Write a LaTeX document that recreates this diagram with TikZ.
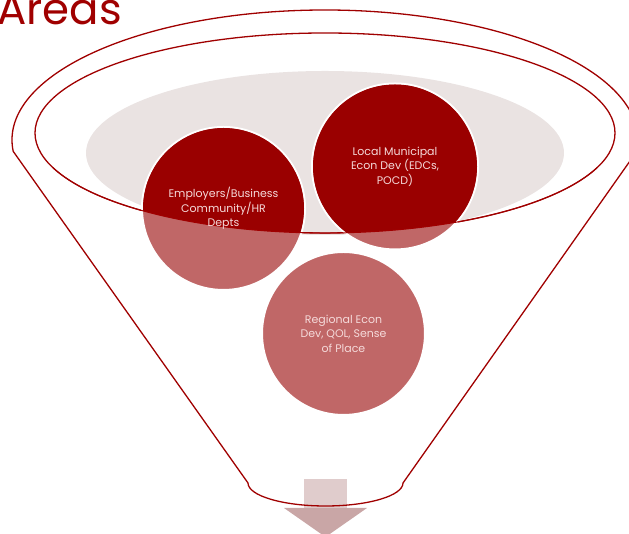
\documentclass[tikz,border=0pt]{standalone}
\usepackage{fontspec}
\setmainfont{Poppins}
\definecolor{funnelred}{HTML}{A00000}
\definecolor{deepred}{HTML}{9A0000}
\definecolor{softred}{HTML}{C06767}
\definecolor{ovalgray}{HTML}{EAE3E2}
\definecolor{labelpink}{HTML}{F5DADA}
\definecolor{stemtint}{HTML}{E0CCCC}
\definecolor{headtint}{HTML}{C9A6A6}
\tikzset{
  funnelline/.style={draw=funnelred, line width=1.3pt, line join=round},
  bubble/.style={circle, minimum size=163pt, inner sep=0pt, fill=softred, draw=white, line width=2pt},
  bubbletext/.style={text=labelpink, align=center, font=\fontsize{11}{14.5}\selectfont},
}
\begin{document}
\begin{tikzpicture}[x=1pt,y=1pt]
\useasboundingbox (0,0) rectangle (629,534);

% title, partly cut off at the top edge
\node[anchor=base west, inner sep=0pt, text=funnelred, font=\fontsize{43.5}{43.5}\selectfont] (title) at (-3,509) {Areas};

% shaded mouth of the funnel
\fill[ovalgray] (325,381) ellipse [x radius=239, y radius=82];

% down arrow leaving the funnel
\fill[stemtint] (304,26) rectangle (347,55);
\fill[headtint] (284,26) -- (367,26) -- (325.5,-3) -- cycle;

% funnel outline: rim on top, straight sides, rounded bottom
\draw[funnelline] (325,394) ++(185:313 and 130)
  arc[start angle=185, end angle=-5, x radius=313, y radius=130]
  -- (403,51)
  arc[start angle=0, end angle=-180, x radius=77.5, y radius=23]
  -- cycle;
\draw[funnelline] (325,401) ellipse [x radius=290, y radius=100];

% the three bubbles
\node[bubble] (emp) at (223.5,325.5) {};
\node[bubble, minimum size=166pt] (local) at (395,367.5) {};
\node[bubble] (region) at (343.5,200.5) {};

% the parts inside the rim are darker
\begin{scope}
  \clip (325,401) ellipse [x radius=290, y radius=100];
  \fill[deepred] (emp.center) circle[radius=80.5];
  \fill[deepred] (local.center) circle[radius=82];
\end{scope}
\draw[funnelred, line width=1pt] (325,401) ++(200:290 and 100)
  arc[start angle=200, end angle=340, x radius=290, y radius=100];

% labels
\node[bubbletext] (emptext) at (emp.center) {Employers/Business\\Community/HR\\Depts};
\node[bubbletext] (localtext) at (local.center) {Local Municipal\\Econ Dev (EDCs,\\POCD)};
\node[bubbletext] (regiontext) at (region.center) {Regional Econ\\Dev, QOL, Sense\\of Place};
\end{tikzpicture}
\end{document}
